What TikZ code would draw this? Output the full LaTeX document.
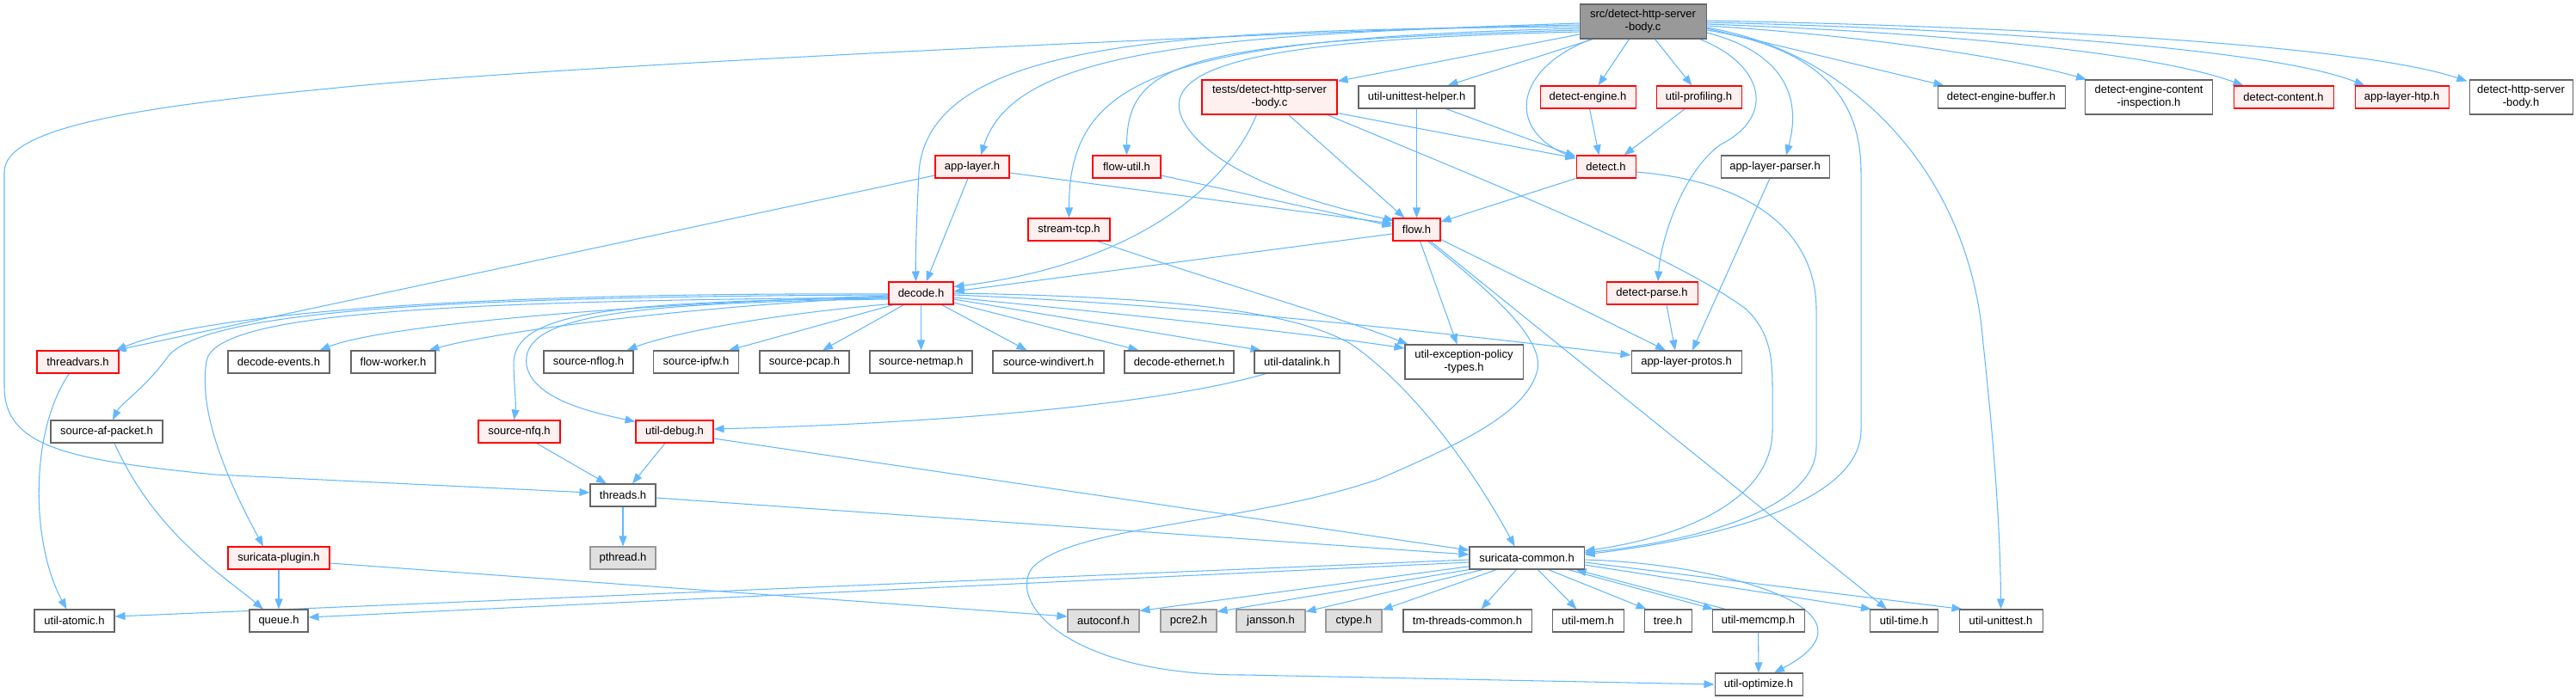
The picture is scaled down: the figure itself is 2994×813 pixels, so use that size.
\documentclass[tikz,border=0pt]{standalone}
\usepackage{fontspec}
\setmainfont{Liberation Sans}
\usetikzlibrary{arrows.meta,calc}
\definecolor{edgec}{HTML}{63B8FF}
\definecolor{redfill}{HTML}{FFF0F0}
\definecolor{greyforty}{HTML}{666666}
\definecolor{greysixty}{HTML}{999999}
\definecolor{sysfill}{HTML}{E0E0E0}
\pgfdeclarelayer{bg}
\pgfsetlayers{bg,main}
\begin{document}
\begin{tikzpicture}[x=1pt,y=-1pt,
  nbase/.style={draw=greyforty, line width=1.05pt, fill=white, inner sep=0pt, minimum height=26pt, font=\fontsize{13}{15}\selectfont, align=center, text=black},
  redn/.style={nbase, draw=red, fill=redfill},
  sysn/.style={nbase, draw=greysixty, fill=sysfill},
  rootn/.style={nbase, fill=greysixty},
  conn/.style={draw=edgec, line width=1.05pt, -{Triangle[length=12pt,width=9pt]}}]
\useasboundingbox (0,0) rectangle (2994,813);
% nodes
\node[rootn,minimum width=147pt,minimum height=40pt] (src) at (1909.5,25) {src/detect-http-server\\-body.c};
\node[redn,minimum width=157pt,minimum height=40pt] (tests) at (1475.5,113) {tests/detect-http-server\\-body.c};
\node[nbase,minimum width=135pt] (uuh) at (1646.5,113) {util-unittest-helper.h};
\node[redn,minimum width=111pt] (deteng) at (1845.5,113) {detect-engine.h};
\node[redn,minimum width=99pt] (prof) at (1974.5,113) {util-profiling.h};
\node[nbase,minimum width=148pt] (debuf) at (2326,113) {detect-engine-buffer.h};
\node[nbase,minimum width=148pt,minimum height=40pt] (deci) at (2497.5,113) {detect-engine-content\\-inspection.h};
\node[redn,minimum width=116pt] (dcont) at (2654,113) {detect-content.h};
\node[redn,minimum width=109pt] (htp) at (2791.5,113) {app-layer-htp.h};
\node[nbase,minimum width=120pt,minimum height=40pt] (dhsb) at (2930,113) {detect-http-server\\-body.h};
\node[redn,minimum width=86pt] (applayer) at (1130,194) {app-layer.h};
\node[redn,minimum width=79pt] (flowutil) at (1309.5,194) {flow-util.h};
\node[redn,minimum width=69pt] (detect) at (1866.5,194) {detect.h};
\node[nbase,minimum width=126pt] (alp) at (2063,194) {app-layer-parser.h};
\node[redn,minimum width=95pt] (streamtcp) at (1242.5,267) {stream-tcp.h};
\node[redn,minimum width=55pt] (flow) at (1646.5,267) {flow.h};
\node[redn,minimum width=75pt] (decode) at (1070.5,341) {decode.h};
\node[redn,minimum width=106pt] (dparse) at (1920,341) {detect-parse.h};
\node[redn,minimum width=95pt] (threadvars) at (90.5,421) {threadvars.h};
\node[nbase,minimum width=118pt] (devents) at (324,421) {decode-events.h};
\node[nbase,minimum width=98pt] (fworker) at (457,421) {flow-worker.h};
\node[nbase,minimum width=104pt] (nflog) at (684,421) {source-nflog.h};
\node[nbase,minimum width=99pt] (ipfw) at (809,421) {source-ipfw.h};
\node[nbase,minimum width=104pt] (pcap) at (935,421) {source-pcap.h};
\node[nbase,minimum width=119pt] (netmap) at (1070.5,421) {source-netmap.h};
\node[nbase,minimum width=129pt] (windivert) at (1218.5,421) {source-windivert.h};
\node[nbase,minimum width=127pt] (deth) at (1370.5,421) {decode-ethernet.h};
\node[nbase,minimum width=99pt] (datalink) at (1507.5,421) {util-datalink.h};
\node[nbase,minimum width=137pt,minimum height=40pt] (uept) at (1701.5,421) {util-exception-policy\\-types.h};
\node[nbase,minimum width=128pt] (alprotos) at (1960,421) {app-layer-protos.h};
\node[nbase,minimum width=130pt] (afpacket) at (124,502) {source-af-packet.h};
\node[redn,minimum width=95pt] (nfq) at (603.5,502) {source-nfq.h};
\node[redn,minimum width=90pt] (udebug) at (784,502) {util-debug.h};
\node[nbase,minimum width=76pt] (threads) at (724,576) {threads.h};
\node[redn,minimum width=118pt] (plugin) at (324,649) {suricata-plugin.h};
\node[sysn,minimum width=76pt] (pthread) at (724,649) {pthread.h};
\node[nbase,minimum width=133pt] (scommon) at (1774.5,649) {suricata-common.h};
\node[nbase,minimum width=93pt] (atomic) at (86.5,722) {util-atomic.h};
\node[nbase,minimum width=68pt] (queue) at (324,722) {queue.h};
\node[sysn,minimum width=83pt] (autoconf) at (1282.5,722) {autoconf.h};
\node[sysn,minimum width=65pt] (pcre2) at (1381.5,722) {pcre2.h};
\node[sysn,minimum width=80pt] (jansson) at (1477,722) {jansson.h};
\node[sysn,minimum width=65pt] (ctype) at (1573.5,722) {ctype.h};
\node[nbase,minimum width=149pt] (tmtc) at (1705.5,722) {tm-threads-common.h};
\node[nbase,minimum width=83pt] (umem) at (1845.5,722) {util-mem.h};
\node[nbase,minimum width=55pt] (tree) at (1938.5,722) {tree.h};
\node[nbase,minimum width=107pt] (memcmp) at (2043.5,722) {util-memcmp.h};
\node[nbase,minimum width=79pt] (utime) at (2213,722) {util-time.h};
\node[nbase,minimum width=97pt] (unittest) at (2325.5,722) {util-unittest.h};
\node[nbase,minimum width=102pt] (optimize) at (2044,796) {util-optimize.h};
\begin{pgfonlayer}{bg}
\fill[white] (0,0) rectangle (2994,813);
% src edges
\draw[conn] ($(src.west)+(0,2)$) .. controls (1300,45) and (600,80) .. (383,103) .. controls (150,125) and (5,150) .. (5,200) -- (5,450) .. controls (5,520) and (80,535) .. (250,552) -- ($(threads.west)+(0,-3)$);
\draw[conn] ($(src.west)+(0,4)$) .. controls (1350,38) and (1175,70) .. ($(applayer.north)+(10,0)$);
\draw[conn] ($(src.west)+(0,6)$) .. controls (1400,35) and (1080,40) .. (1068,200) .. controls (1065,260) and (1064,300) .. ($(decode.north)+(-6,0)$);
\draw[conn] ($(src.west)+(0,8)$) .. controls (1350,45) and (1242,90) .. (streamtcp.north);
\draw[conn] ($(src.west)+(0,10)$) .. controls (1380,48) and (1310,70) .. (flowutil.north);
\draw[conn] ($(src.west)+(0,12)$) .. controls (1500,45) and (1340,70) .. (1375,140) .. controls (1410,205) and (1540,240) .. ($(flow.north west)+(2,3)$);
\draw[conn] ($(src.west)+(0,15)$) -- ($(tests.north east)+(0,2)$);
\draw[conn] ($(src.south west)+(16,0)$) -- ($(uuh.north)+(36,0)$);
\draw[conn] ($(src.south west)+(14,0)$) .. controls (1760,80) and (1750,150) .. ($(detect.north west)+(0,4)$);
\draw[conn] ($(src.south)+(-16,0)$) -- ($(deteng.north)+(12,0)$);
\draw[conn] ($(src.south)+(14,0)$) -- ($(prof.north)+(-8,0)$);
\draw[conn] ($(src.south east)+(-8,0)$) .. controls (2050,75) and (2065,135) .. (2000,168) .. controls (1955,200) and (1930,280) .. ($(dparse.north)+(7,0)$);
\draw[conn] ($(src.east)+(0,13)$) .. controls (2070,60) and (2095,110) .. ($(alp.north)+(13,0)$);
\draw[conn] ($(src.east)+(0,10)$) .. controls (2110,55) and (2163,110) .. (2163,200) -- (2163,500) .. controls (2163,575) and (2030,622) .. ($(scommon.east)+(0,-4)$);
\draw[conn] ($(src.east)+(0,7)$) .. controls (2150,60) and (2290,200) .. (2305,400) .. controls (2318,520) and (2325,620) .. (unittest.north);
\draw[conn] ($(src.east)+(0,8)$) -- ($(debuf.north west)+(8,0)$);
\draw[conn] ($(src.east)+(0,5)$) .. controls (2150,40) and (2330,65) .. ($(deci.north west)+(2,0)$);
\draw[conn] ($(src.east)+(0,3)$) .. controls (2250,38) and (2500,60) .. ($(dcont.north west)+(12,0)$);
\draw[conn] ($(src.east)+(0,1)$) .. controls (2350,35) and (2650,60) .. ($(htp.north west)+(12,0)$);
\draw[conn] ($(src.east)+(0,-1)$) .. controls (2400,32) and (2750,55) .. ($(dhsb.north west)+(-2,2)$);
% tests edges
\draw[conn] ($(tests.south west)+(64,0)$) .. controls (1420,230) and (1300,310) .. ($(decode.north east)+(0,6)$);
\draw[conn] ($(tests.south)+(22,0)$) -- ($(flow.north)+(-14,0)$);
\draw[conn] ($(tests.south east)+(0,-2)$) -- ($(detect.west)+(0,-10)$);
\draw[conn] ($(tests.south east)+(-12,0)$) .. controls (1750,220) and (1950,300) .. (2030,360) .. controls (2055,385) and (2060,410) .. (2060,450) -- (2060,500) .. controls (2060,585) and (1950,625) .. ($(scommon.east)+(0,-8)$);
% unittest helper, detect-engine, profiling
\draw[conn] (uuh.south) -- (flow.north);
\draw[conn] ($(uuh.south east)+(-34,0)$) -- ($(detect.west)+(0,-12)$);
\draw[conn] ($(deteng.south)+(2,0)$) -- ($(detect.north)+(-8,0)$);
\draw[conn] ($(prof.south)+(-16,0)$) -- ($(detect.north east)+(-14,0)$);
% detect
\draw[conn] (detect.south west) -- ($(flow.east)+(0,-9)$);
\draw[conn] ($(detect.east)+(0,6)$) .. controls (2050,212) and (2111,280) .. (2111,360) -- (2111,520) .. controls (2111,590) and (1980,628) .. ($(scommon.east)+(0,-6)$);
% app-layer, flow-util, stream-tcp
\draw[conn] ($(applayer.west)+(0,10)$) -- ($(threadvars.north east)+(-4,0)$);
\draw[conn] ($(applayer.south)+(-5,0)$) -- ($(decode.north)+(6,0)$);
\draw[conn] ($(applayer.east)+(0,7)$) -- ($(flow.west)+(0,-7)$);
\draw[conn] ($(flowutil.east)+(0,10)$) -- ($(flow.west)+(0,-4)$);
\draw[conn] ($(streamtcp.south east)+(-15,0)$) .. controls (1420,330) and (1560,370) .. ($(uept.north west)+(4,0)$);
% flow
\draw[conn] ($(flow.west)+(0,5)$) -- ($(decode.east)+(0,-2)$);
\draw[conn] ($(flow.south)+(4,0)$) -- ($(uept.north)+(-8,0)$);
\draw[conn] ($(flow.south east)+(0,-2)$) -- ($(alprotos.north)+(-24,0)$);
\draw[conn] ($(flow.south)+(16,0)$) -- ($(utime.north)+(-20,0)$);
\draw[conn] ($(flow.south)+(13,0)$) .. controls (1720,330) and (1795,390) .. (1787,430) .. controls (1775,480) and (1700,515) .. (1603,557) .. controls (1450,610) and (1250,610) .. (1200,660) .. controls (1170,700) and (1240,785) .. (1446,785) -- (optimize.west);
% detect-parse, app-layer-parser
\draw[conn] ($(dparse.south)+(17,0)$) -- ($(alprotos.north)+(-13,0)$);
\draw[conn] ($(alp.south)+(-6,0)$) -- ($(alprotos.north)+(7,0)$);
% decode
\draw[conn] ($(decode.west)+(0,1)$) .. controls (600,340) and (250,360) .. ($(threadvars.north east)+(-4,0)$);
\draw[conn] ($(decode.west)+(0,3)$) .. controls (700,355) and (440,380) .. ($(devents.north east)+(-12,0)$);
\draw[conn] ($(decode.west)+(0,4)$) .. controls (750,360) and (560,390) .. ($(fworker.north east)+(-8,0)$);
\draw[conn] ($(decode.south west)+(2,-1)$) .. controls (850,370) and (760,395) .. ($(nflog.north east)+(-8,0)$);
\draw[conn] ($(decode.south west)+(6,0)$) -- ($(ipfw.north east)+(-12,0)$);
\draw[conn] ($(decode.south west)+(18,0)$) -- ($(pcap.north)+(21,0)$);
\draw[conn] (decode.south) -- (netmap.north);
\draw[conn] ($(decode.south east)+(-14,0)$) -- ($(windivert.north)+(-25,0)$);
\draw[conn] ($(decode.east)+(0,11)$) -- ($(deth.north)+(-47,0)$);
\draw[conn] ($(decode.east)+(0,7)$) -- ($(datalink.north)+(-42,0)$);
\draw[conn] ($(decode.east)+(0,5)$) .. controls (1300,365) and (1500,385) .. ($(uept.west)+(0,-16)$);
\draw[conn] ($(decode.east)+(0,2)$) .. controls (1400,355) and (1700,390) .. ($(alprotos.west)+(0,-8)$);
\draw[conn] (decode.east) .. controls (1350,345) and (1500,360) .. (1570,400) .. controls (1650,455) and (1720,560) .. ($(scommon.north)+(-14,0)$);
\draw[conn] ($(decode.west)+(0,2)$) .. controls (600,345) and (240,355) .. (195,415) .. controls (170,450) and (140,470) .. ($(afpacket.north)+(7,0)$);
\draw[conn] ($(decode.west)+(0,5)$) .. controls (500,350) and (250,365) .. (240,420) .. controls (230,480) and (265,560) .. ($(plugin.north)+(-18,0)$);
\draw[conn] ($(decode.west)+(0,6)$) .. controls (700,350) and (595,365) .. (597,425) .. controls (598,455) and (600,470) .. ($(nfq.north)+(-6,0)$);
\draw[conn] ($(decode.west)+(0,7)$) .. controls (700,352) and (605,372) .. (612,425) .. controls (620,465) and (690,480) .. ($(udebug.north west)+(0,2)$);
% datalink, nfq, debug, threads
\draw[conn] ($(datalink.south west)+(14,0)$) .. controls (1350,470) and (1100,492) .. ($(udebug.east)+(0,-3)$);
\draw[conn] ($(nfq.south)+(20,0)$) -- ($(threads.north)+(-19,0)$);
\draw[conn] ($(udebug.south)+(-11,0)$) -- ($(threads.north)+(11,0)$);
\draw[conn] ($(udebug.east)+(0,8)$) -- ($(scommon.west)+(0,-9)$);
\draw[conn] (threads) -- (pthread);
\draw[conn] ($(threads.east)+(0,3)$) -- ($(scommon.west)+(0,-4)$);
\draw[conn] ($(threadvars.south)+(-10,0)$) .. controls (35,500) and (35,630) .. ($(atomic.north)+(-9,0)$);
\draw[conn] ($(afpacket.south)+(9,0)$) .. controls (180,620) and (260,670) .. ($(queue.north)+(-18,0)$);
\draw[conn] (plugin) -- (queue);
\draw[conn] ($(plugin.east)+(0,6)$) -- ($(autoconf.west)+(0,-5)$);
% suricata-common
\draw[conn] ($(scommon.west)+(0,2)$) -- ($(atomic.east)+(0,-5)$);
\draw[conn] ($(scommon.west)+(0,5)$) -- ($(queue.east)+(0,-4)$);
\draw[conn] ($(scommon.south west)+(2,-4)$) -- ($(autoconf.north east)+(0,2)$);
\draw[conn] ($(scommon.south west)+(6,-1)$) -- ($(pcre2.north east)+(0,3)$);
\draw[conn] ($(scommon.south west)+(16,0)$) -- ($(jansson.north east)+(0,3)$);
\draw[conn] ($(scommon.south west)+(32,0)$) -- ($(ctype.north east)+(0,1)$);
\draw[conn] ($(scommon.south)+(-12,0)$) -- ($(tmtc.north)+(16,0)$);
\draw[conn] ($(scommon.south)+(13,0)$) -- ($(umem.north)+(-13,0)$);
\draw[conn] ($(scommon.south)+(25,0)$) -- ($(tree.north)+(-25,0)$);
\draw[conn] ($(scommon.south east)+(-19,0)$) -- ($(memcmp.north west)+(2,0)$);
\draw[conn] ($(memcmp.north west)+(16,0)$) -- ($(scommon.south east)+(-10,0)$);
\draw[conn] ($(scommon.east)+(0,8)$) -- ($(utime.north west)+(2,0)$);
\draw[conn] ($(scommon.east)+(0,5)$) -- ($(unittest.north west)+(4,0)$);
\draw[conn] ($(scommon.east)+(0,2)$) .. controls (2000,655) and (2200,710) .. ($(optimize.north)+(18,0)$);
\draw[conn] (memcmp) -- (optimize);
\end{pgfonlayer}
\end{tikzpicture}
\end{document}
